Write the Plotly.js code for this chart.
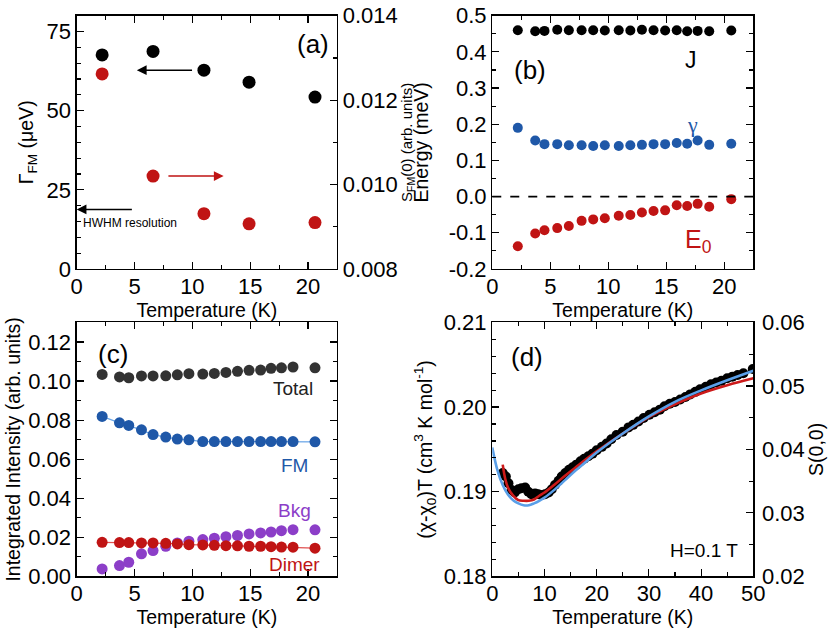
<!DOCTYPE html>
<html>
<head>
<meta charset="utf-8">
<script src="https://cdn.plot.ly/plotly-3.0.1.min.js"></script>
<style>
  html, body { margin: 0; padding: 0; background: #fff; }
  #chart { width: 830px; height: 628px; }
</style>
</head>
<body>
<div id="chart"></div>
<script>
// (a) linewidth and spectral weight of the FM mode
const tempA = [2.2, 6.6, 11.0, 14.9, 20.6];
const gammaFM = [67.6, 68.7, 62.8, 59.0, 54.3];
const sFM0 = [0.01262, 0.0102, 0.00931, 0.00907, 0.0091];

// (b) fitted energies
const tempB = [2.2, 3.7, 4.5, 5.6, 6.6, 7.7, 8.7, 9.7, 10.9, 11.9, 12.9, 13.9, 14.9, 15.9, 16.8, 17.7, 18.7, 20.6];
const eJ = [0.46, 0.457, 0.458, 0.461, 0.46, 0.46, 0.46, 0.459, 0.46, 0.459, 0.461, 0.46, 0.459, 0.46, 0.457, 0.458, 0.457, 0.459];
const eGamma = [0.19, 0.155, 0.145, 0.145, 0.142, 0.142, 0.14, 0.142, 0.14, 0.142, 0.143, 0.145, 0.145, 0.148, 0.146, 0.155, 0.143, 0.146];
const eE0 = [-0.137, -0.102, -0.093, -0.087, -0.081, -0.067, -0.063, -0.06, -0.053, -0.051, -0.044, -0.04, -0.038, -0.024, -0.026, -0.02, -0.028, -0.007];
const yTickB = [-0.2, -0.1, 0, 0.1, 0.2, 0.3, 0.4, 0.5];
const yTextB = ["-0.2", "-0.1", "0.0", "0.1", "0.2", "0.3", "0.4", "0.5"];

// (c) integrated intensities (same temperatures as b)
const iTotal = [0.1034, 0.1021, 0.1017, 0.1026, 0.1026, 0.1027, 0.1032, 0.1038, 0.1036, 0.1039, 0.1044, 0.105, 0.1055, 0.1056, 0.1065, 0.1068, 0.1072, 0.1068];
const iFM = [0.0819, 0.0786, 0.0773, 0.075, 0.0726, 0.0713, 0.0703, 0.0699, 0.069, 0.069, 0.069, 0.069, 0.069, 0.069, 0.069, 0.069, 0.069, 0.0689];
const iBkg = [0.0038, 0.0055, 0.0072, 0.0115, 0.0132, 0.0154, 0.0171, 0.018, 0.0188, 0.0195, 0.0203, 0.0209, 0.0217, 0.0222, 0.0227, 0.0234, 0.0239, 0.0238];
const iDimer = [0.0174, 0.0173, 0.0173, 0.0171, 0.0171, 0.0169, 0.0166, 0.0162, 0.0161, 0.0159, 0.0157, 0.0156, 0.0154, 0.0154, 0.0152, 0.015, 0.0149, 0.0144];

// (d) susceptibility data and S(0,0) curves
const tempD = [2.0, 2.6, 3.1, 3.7, 4.3, 5.0, 5.6, 6.3, 6.9, 7.5, 8.2, 8.8, 9.5, 10.1, 10.8, 11.4, 12.0, 12.7, 13.3, 14.0, 14.7, 15.4, 16.1, 16.9, 17.6, 18.4, 19.2, 20.0, 21.0, 21.9, 22.8, 23.8, 25.0, 26.1, 27.0, 28.0, 29.0, 30.1, 31.1, 32.1, 33.0, 34.0, 35.0, 36.0, 37.0, 37.9, 38.9, 39.8, 40.9, 41.9, 42.9, 43.9, 45.0, 46.0, 47.0, 48.1, 49.9];
const chiT = [0.1922, 0.1918, 0.191, 0.1902, 0.1899, 0.1903, 0.1904, 0.1905, 0.19, 0.1897, 0.1898, 0.1897, 0.1896, 0.1897, 0.1899, 0.1903, 0.1908, 0.1913, 0.1918, 0.1922, 0.1926, 0.1929, 0.1932, 0.1936, 0.1939, 0.1942, 0.1945, 0.1949, 0.1953, 0.1957, 0.1962, 0.1967, 0.1971, 0.1976, 0.1979, 0.1983, 0.1987, 0.1991, 0.1994, 0.1997, 0.2001, 0.2004, 0.2006, 0.2009, 0.2012, 0.2015, 0.2018, 0.2021, 0.2024, 0.2027, 0.2029, 0.2031, 0.2034, 0.2036, 0.2038, 0.204, 0.2045];
const tempBlue = [0, 1, 2, 3, 4, 5, 6, 7, 8, 9, 10, 12, 14, 16, 18, 20, 25, 30, 35, 40, 45, 50];
const sBlue = [0.0403, 0.0367, 0.0344, 0.0329, 0.032, 0.0315, 0.0312, 0.0312, 0.0315, 0.0319, 0.0324, 0.0337, 0.0352, 0.0367, 0.0381, 0.0395, 0.0425, 0.0452, 0.0475, 0.0493, 0.0509, 0.0524];
const tempRed = [2.0, 2.5, 3, 4, 5, 6, 7, 8, 9, 10, 12, 14, 16, 18, 20, 25, 30, 35, 40, 45, 50];
const sRed = [0.0376, 0.0353, 0.034, 0.0327, 0.032, 0.0319, 0.0319, 0.0321, 0.0327, 0.0332, 0.0345, 0.0359, 0.0372, 0.0385, 0.0397, 0.0425, 0.0451, 0.0471, 0.0488, 0.0501, 0.0512];

const RED = "#c01414", BLUE = "#1f58a8", PURPLE = "#8c3ec8", DARK = "#333333";
const FONT = "Liberation Sans, Arial, sans-serif";

function pts(x, y, color, size, xa, ya, line) {
  const t = { x: x, y: y, xaxis: xa, yaxis: ya, type: "scatter", mode: line ? "lines+markers" : "markers",
    marker: { color: color, size: size }, showlegend: false, hoverinfo: "x+y" };
  if (line) t.line = { color: line, width: 1.2 };
  return t;
}
function curve(x, y, color, xa, ya) {
  return { x: x, y: y, xaxis: xa, yaxis: ya, type: "scatter", mode: "lines",
    line: { color: color, width: 2.6, shape: "spline" }, showlegend: false };
}

const traces = [
  pts(tempA, gammaFM, "#000", 13, "x", "y"),
  pts(tempA, sFM0, RED, 13, "x", "y2"),
  pts(tempB, eJ, "#000", 10, "x2", "y3"),
  pts(tempB, eGamma, BLUE, 10, "x2", "y3"),
  pts(tempB, eE0, RED, 10, "x2", "y3"),
  pts(tempB, iTotal, DARK, 11, "x3", "y4"),
  pts(tempB, iFM, BLUE, 11, "x3", "y4", "#6aa6e8"),
  pts(tempB, iBkg, PURPLE, 11, "x3", "y4"),
  pts(tempB, iDimer, RED, 11, "x3", "y4", "#e05050"),
  pts(tempD, chiT, "#000", 10, "x4", "y5"),
  curve(tempRed, sRed, "#cc1a1a", "x4", "y6"),
  curve(tempBlue, sBlue, "#5a9fe8", "x4", "y6")
];

const tickFont = { family: FONT, size: 22, color: "#000" };
const titleFont = { family: FONT, size: 19.5, color: "#000" };

function xax(domain, anchor, range, dtick, minor) {
  return { domain: domain, anchor: anchor, range: range, dtick: dtick, tick0: 0,
    ticks: "inside", ticklen: 7, tickwidth: 1.2, tickcolor: "#000",
    minor: { dtick: minor, ticks: "inside", ticklen: 4, tickwidth: 1.2, tickcolor: "#000" },
    showline: true, linewidth: 1.3, linecolor: "#000", mirror: "ticks",
    showgrid: false, zeroline: false, tickfont: tickFont, ticklabelstandoff: -3,
    title: { text: "Temperature (K)", font: titleFont, standoff: 0 } };
}
function yax(domain, anchor, range, dtick, minor, fmt, title, mirror, standoff) {
  return { domain: domain, anchor: anchor, range: range, dtick: dtick, tickformat: fmt,
    ticks: "inside", ticklen: 7, tickwidth: 1.2, tickcolor: "#000",
    minor: { dtick: minor, ticks: "inside", ticklen: 4, tickwidth: 1.2, tickcolor: "#000" },
    showline: true, linewidth: 1.3, linecolor: "#000", mirror: mirror,
    showgrid: false, zeroline: false, tickfont: tickFont,
    title: { text: title, font: titleFont, standoff: standoff } };
}

const colL = [0.0924, 0.406], colR = [0.5931, 0.9076];
const rowT = [0.5717, 0.975], rowB = [0.0823, 0.4865];

const layout = {
  width: 830, height: 628,
  margin: { l: 0, r: 0, t: 0, b: 0 },
  paper_bgcolor: "#fff", plot_bgcolor: "#fff",
  font: { family: FONT, color: "#000" },
  showlegend: false,
  xaxis: xax(colL, "y", [0, 22.5], 5, 2.5),
  yaxis: yax(rowT, "x", [0, 80], 25, 5, "d", "Γ<sub>FM</sub> (μeV)", true, 7),
  yaxis2: Object.assign(yax(rowT, "x", [0.008, 0.014], 0.002, 0.001, ".3f", "", false, 0),
    { overlaying: "y", side: "right", title: { text: "S<sub>FM</sub>(0) (arb. units)", font: { family: FONT, size: 15 }, standoff: 1 } }),
  xaxis2: xax(colR, "y3", [0, 22.5], 5, 2.5),
  yaxis3: Object.assign(yax(rowT, "x2", [-0.2, 0.5], 0.1, 0.05, ".1f", "Energy (meV)", "ticks", 14),
    { tickmode: "array", tickvals: yTickB, ticktext: yTextB }),
  xaxis3: xax(colL, "y4", [0, 22.5], 5, 2.5),
  yaxis4: yax(rowB, "x3", [0, 0.13], 0.02, 0.01, ".2f", "Integrated Intensity (arb. units)", "ticks", 2),
  xaxis4: xax(colR, "y5", [0, 50], 10, 5),
  yaxis5: yax(rowB, "x4", [0.18, 0.21], 0.01, 0.002, ".2f", "(χ-χ<sub>0</sub>)T (cm<sup>3</sup> K mol<sup>-1</sup>)", true, 6),
  yaxis6: Object.assign(yax(rowB, "x4", [0.02, 0.06], 0.01, 0.005, ".2f", "S(0,0)", false, 0),
    { overlaying: "y5", side: "right", ticklabelstandoff: 3 }),
  shapes: [
    { type: "line", xref: "x2 domain", yref: "y3", x0: 0, x1: 1, y0: 0, y1: 0,
      line: { color: "#000", width: 1.6, dash: "dash" } }
  ],
  annotations: [
    { xref: "x", yref: "y", x: 20.4, y: 71, text: "(a)", showarrow: false, font: { size: 26 } },
    { xref: "x", yref: "y", x: 5.2, y: 62.8, ax: 10.1, ay: 62.8, axref: "x", ayref: "y", text: "",
      showarrow: true, arrowhead: 2, arrowsize: 1.3, arrowwidth: 1.5, arrowcolor: "#000" },
    { xref: "x", yref: "y2", x: 12.7, y: 0.0102, ax: 7.8, ay: 0.0102, axref: "x", ayref: "y2", text: "",
      showarrow: true, arrowhead: 2, arrowsize: 1.3, arrowwidth: 1.5, arrowcolor: RED },
    { xref: "x", yref: "y", x: 0, y: 18.8, ax: 4.9, ay: 18.8, axref: "x", ayref: "y", text: "",
      showarrow: true, arrowhead: 2, arrowsize: 1.3, arrowwidth: 1.5, arrowcolor: "#000" },
    { xref: "x", yref: "y", x: 0.35, y: 14.6, xanchor: "left", text: "HWHM resolution", showarrow: false,
      font: { size: 12 } },
    { xref: "x2", yref: "y3", x: 3.25, y: 0.35, text: "(b)", showarrow: false, font: { size: 26 } },
    { xref: "x2", yref: "y3", x: 17.1, y: 0.378, text: "J", showarrow: false, font: { size: 23 } },
    { xref: "x2", yref: "y3", x: 17.3, y: 0.2, text: "γ", showarrow: false,
      font: { size: 22, color: BLUE, family: "Liberation Serif, serif" } },
    { xref: "x2", yref: "y3", x: 17.8, y: -0.122, text: "E<sub>0</sub>", showarrow: false, font: { size: 25, color: RED } },
    { xref: "x3", yref: "y4", x: 3.1, y: 0.114, text: "(c)", showarrow: false, font: { size: 26 } },
    { xref: "x3", yref: "y4", x: 18.7, y: 0.096, text: "Total", showarrow: false, font: { size: 19, color: "#222" } },
    { xref: "x3", yref: "y4", x: 18.8, y: 0.0567, text: "FM", showarrow: false, font: { size: 19, color: BLUE } },
    { xref: "x3", yref: "y4", x: 18.85, y: 0.0336, text: "Bkg", showarrow: false, font: { size: 19, color: PURPLE } },
    { xref: "x3", yref: "y4", x: 18.85, y: 0.0063, text: "Dimer", showarrow: false, font: { size: 19, color: RED } },
    { xref: "x4", yref: "y5", x: 6.6, y: 0.2059, text: "(d)", showarrow: false, font: { size: 26 } },
    { xref: "x4", yref: "y5", x: 40.6, y: 0.183, text: "H=0.1 T", showarrow: false, font: { size: 19 } }
  ]
};

Plotly.newPlot("chart", traces, layout, { displayModeBar: false, staticPlot: true });
</script>
</body>
</html>
